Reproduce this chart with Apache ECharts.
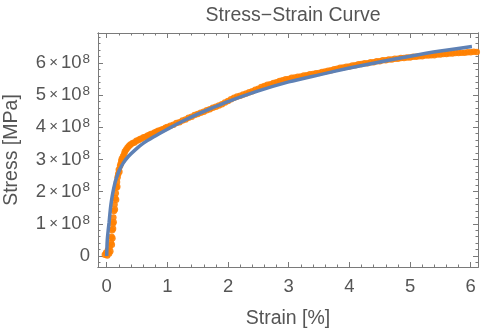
<!DOCTYPE html>
<html>
<head>
<meta charset="utf-8">
<script src="https://cdn.jsdelivr.net/npm/echarts@6/dist/echarts.min.js"></script>
<style>
  html, body { margin: 0; padding: 0; background: #fff; }
  #chart { width: 482px; height: 331px; }
</style>
</head>
<body>
<div id="chart"></div>
<script>
// Measured tensile test: strain in %, stress in units of 1e8 Pa
const strainMeasured = [
  -0.03, -0.01, 0.01, 0.02, 0.04, 0.05, 0.06, 0.07, 0.08, 0.085, 0.09, 0.095, 0.10, 0.105, 0.11, 0.115,
  0.12, 0.13, 0.135, 0.14, 0.15, 0.155, 0.16, 0.17, 0.175, 0.18, 0.19, 0.20, 0.21, 0.22, 0.23, 0.24,
  0.25, 0.26, 0.27, 0.29, 0.30, 0.32, 0.34, 0.36, 0.38, 0.40, 0.43, 0.46, 0.49, 0.52, 0.55, 0.58,
  0.61, 0.64, 0.67, 0.70, 0.73, 0.76, 0.79, 0.82, 0.85, 0.88, 0.91, 0.94, 0.97, 1.00,
  1.05, 1.10, 1.15, 1.20, 1.25, 1.30, 1.35, 1.40, 1.45, 1.50, 1.55, 1.60, 1.65, 1.70, 1.75, 1.80,
  1.85, 1.90, 1.95, 2.00, 2.05, 2.10, 2.15, 2.20, 2.25, 2.30, 2.35, 2.40, 2.45, 2.50, 2.55, 2.60,
  2.65, 2.70, 2.75, 2.80, 2.85, 2.90, 2.95, 3.00, 3.05, 3.10, 3.15, 3.20, 3.25, 3.30, 3.35, 3.40,
  3.45, 3.50, 3.55, 3.60, 3.65, 3.70, 3.75, 3.80, 3.85, 3.90, 3.95, 4.00, 4.05, 4.10, 4.15, 4.20,
  4.25, 4.30, 4.35, 4.40, 4.45, 4.50, 4.55, 4.60, 4.65, 4.70, 4.75, 4.80, 4.85, 4.90, 4.95, 5.00,
  5.05, 5.10, 5.15, 5.20, 5.25, 5.30, 5.35, 5.40, 5.45, 5.50, 5.55, 5.60, 5.65, 5.70, 5.75, 5.80,
  5.85, 5.90, 5.95, 6.00, 6.05, 6.10
];
const stressMeasured = [
  0.04, 0.10, 0.02, 0.18, 0.08, 0.28, 0.15, 0.42, 0.60, 0.35, 0.80, 0.55, 1.00, 0.85, 1.20, 1.05,
  1.40, 1.60, 1.45, 1.80, 1.95, 1.75, 2.12, 2.30, 2.15, 2.45, 2.55, 2.68, 2.62, 2.80, 2.86, 2.95,
  3.02, 2.98, 3.10, 3.18, 3.25, 3.30, 3.36, 3.40, 3.44, 3.47, 3.51, 3.53, 3.58, 3.60, 3.64, 3.65,
  3.69, 3.70, 3.74, 3.76, 3.79, 3.80, 3.84, 3.86, 3.89, 3.90, 3.93, 3.95, 3.99, 4.01,
  4.05, 4.08, 4.13, 4.16, 4.21, 4.24, 4.30, 4.33, 4.38, 4.41, 4.45, 4.48, 4.53, 4.56, 4.61, 4.64,
  4.68, 4.72, 4.77, 4.82, 4.87, 4.92, 4.96, 4.98, 5.02, 5.05, 5.09, 5.12, 5.17, 5.20, 5.25, 5.28,
  5.32, 5.34, 5.38, 5.40, 5.44, 5.46, 5.49, 5.50, 5.54, 5.55, 5.57, 5.58, 5.61, 5.62, 5.65, 5.66,
  5.68, 5.69, 5.72, 5.73, 5.76, 5.77, 5.80, 5.82, 5.85, 5.86, 5.88, 5.89, 5.92, 5.93, 5.96, 5.97,
  5.99, 5.99, 6.02, 6.02, 6.05, 6.05, 6.08, 6.08, 6.11, 6.11, 6.13, 6.13, 6.15, 6.15, 6.17, 6.17,
  6.19, 6.19, 6.21, 6.21, 6.23, 6.23, 6.24, 6.24, 6.26, 6.26, 6.28, 6.28, 6.29, 6.29, 6.31, 6.31,
  6.32, 6.32, 6.33, 6.33, 6.35, 6.34
];

// Fitted hardening curve
const strainFit = [
  0.00, 0.01, 0.025, 0.04, 0.055, 0.07, 0.09, 0.11, 0.13, 0.15, 0.18, 0.21, 0.27, 0.36, 0.47, 0.60,
  0.77, 1.00, 1.25, 1.50, 1.75, 2.00, 2.50, 3.00, 3.50, 4.00, 4.50, 5.00, 5.50, 6.02
];
const stressFit = [
  0.00, 0.50, 0.80, 1.05, 1.35, 1.60, 1.85, 2.05, 2.22, 2.36, 2.53, 2.67, 2.88, 3.10, 3.30, 3.50,
  3.70, 3.94, 4.19, 4.41, 4.61, 4.80, 5.13, 5.41, 5.63, 5.84, 6.03, 6.21, 6.37, 6.51
];

const STRESS_UNIT = 1e8;

// Tick positions and labels
const xMajorTicks = [0, 1, 2, 3, 4, 5, 6];
const xMinorTicks = [0.2, 0.4, 0.6, 0.8, 1.2, 1.4, 1.6, 1.8, 2.2, 2.4, 2.6, 2.8, 3.2, 3.4, 3.6, 3.8,
  4.2, 4.4, 4.6, 4.8, 5.2, 5.4, 5.6, 5.8];
const yMajorTicks = [0, 1, 2, 3, 4, 5, 6];
const yMinorTicks = [-0.2, 0.2, 0.4, 0.6, 0.8, 1.2, 1.4, 1.6, 1.8, 2.2, 2.4, 2.6, 2.8, 3.2, 3.4, 3.6, 3.8,
  4.2, 4.4, 4.6, 4.8, 5.2, 5.4, 5.6, 5.8, 6.2, 6.4, 6.6, 6.8];

const X_MIN = -0.143, X_MAX = 6.12;
const Y_MIN = -0.34, Y_MAX = 6.93;

const FRAME = '#7a7a7a';
const TEXT = '#555555';
const FONT = '"Liberation Sans", Arial, sans-serif';

const measuredPoints = strainMeasured.map((s, i) => [s, stressMeasured[i] * STRESS_UNIT]);
const fitPoints = strainFit.map((s, i) => [s, stressFit[i] * STRESS_UNIT]);

const scaleUnit = v => v * STRESS_UNIT;

function xAxisDef(pos, ticks, len, showLabel) {
  return {
    type: 'value', position: pos, min: X_MIN, max: X_MAX, gridIndex: 0,
    axisLine: { show: true, onZero: false, lineStyle: { color: FRAME, width: 1 } },
    axisTick: { show: true, inside: true, length: len, customValues: ticks, lineStyle: { color: FRAME, width: 1 } },
    axisLabel: showLabel ? {
      show: true, customValues: ticks, margin: 10, fontSize: 18.5, color: TEXT, fontFamily: FONT
    } : { show: false },
    splitLine: { show: false }
  };
}

function yAxisDef(pos, ticks, len, showLabel) {
  return {
    type: 'value', position: pos, min: scaleUnit(Y_MIN), max: scaleUnit(Y_MAX), gridIndex: 0,
    axisLine: { show: true, onZero: false, lineStyle: { color: FRAME, width: 1 } },
    axisTick: { show: true, inside: true, length: len, customValues: ticks.map(scaleUnit), lineStyle: { color: FRAME, width: 1 } },
    axisLabel: showLabel ? {
      show: true, customValues: ticks.map(scaleUnit), margin: 8, color: TEXT, fontFamily: FONT,
      formatter: v => {
        const n = Math.round(v / STRESS_UNIT);
        return n === 0 ? '{b|0}' : '{b|' + n + '}{x|\u2009×\u2009}{b|10}{s|8}';
      },
      rich: {
        b: { fontSize: 18.5, color: TEXT, fontFamily: FONT, lineHeight: 22 },
        x: { fontSize: 15, color: TEXT, fontFamily: FONT, lineHeight: 22 },
        s: { fontSize: 13.5, color: TEXT, fontFamily: FONT, lineHeight: 22, verticalAlign: 'top', padding: [0, 0, 11, 1] }
      }
    } : { show: false },
    splitLine: { show: false }
  };
}

const chart = echarts.init(document.getElementById('chart'), null, { renderer: 'canvas' });
chart.setOption({
  animation: false,
  backgroundColor: '#ffffff',
  title: {
    text: 'Stress\u2212Strain Curve',
    left: 288, top: 1, textAlign: 'center',
    textStyle: { fontSize: 19.5, fontWeight: 'normal', color: TEXT, fontFamily: FONT }
  },
  grid: { left: 98, right: 4, top: 33, bottom: 64, containLabel: false, outerBoundsMode: 'none' },
  xAxis: [
    Object.assign(xAxisDef('bottom', xMajorTicks, 5, true), {
      name: 'Strain [%]', nameLocation: 'middle', nameGap: 42,
      nameTextStyle: { fontSize: 19.5, color: TEXT, fontFamily: FONT }
    }),
    xAxisDef('bottom', xMinorTicks, 2.5, false),
    xAxisDef('top', xMajorTicks, 5, false),
    xAxisDef('top', xMinorTicks, 2.5, false)
  ],
  yAxis: [
    Object.assign(yAxisDef('left', yMajorTicks, 5, true), {
      name: 'Stress [MPa]', nameLocation: 'middle', nameGap: 76, nameRotate: 90,
      nameTextStyle: { fontSize: 19.5, color: TEXT, fontFamily: FONT }
    }),
    yAxisDef('left', yMinorTicks, 2.5, false),
    yAxisDef('right', yMajorTicks, 5, false),
    yAxisDef('right', yMinorTicks, 2.5, false)
  ],
  series: [
    {
      name: 'Measured', type: 'scatter', xAxisIndex: 0, yAxisIndex: 0,
      data: measuredPoints, symbol: 'circle', symbolSize: 6.5,
      itemStyle: { color: '#ff8000', opacity: 0.9 }, z: 2
    },
    {
      name: 'Fit', type: 'line', xAxisIndex: 0, yAxisIndex: 0,
      data: fitPoints, smooth: 0.3, showSymbol: false, symbol: 'none',
      lineStyle: { color: '#5e81b5', width: 3.5 }, z: 3
    }
  ]
});
</script>
</body>
</html>
